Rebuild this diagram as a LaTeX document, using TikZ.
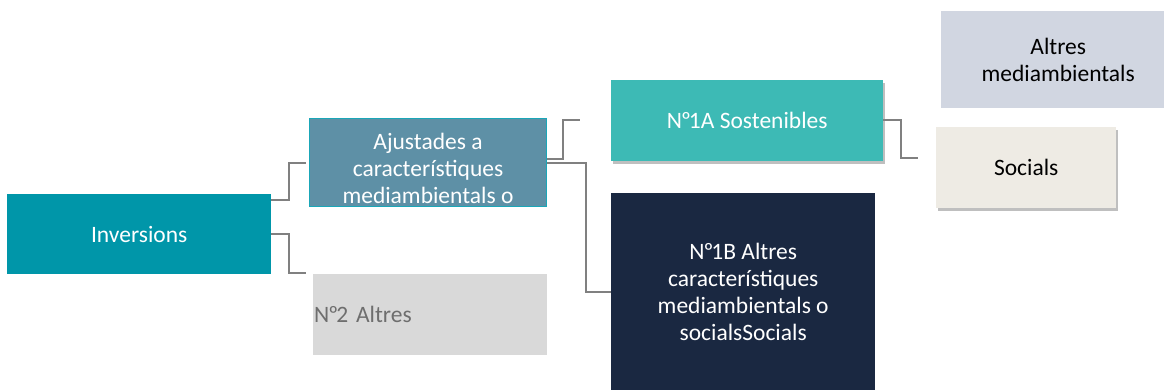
\documentclass[tikz,border=0pt]{standalone}
\usepackage{fontspec}
\setmainfont{Carlito}
\usetikzlibrary{shadows}
\definecolor{invblue}{HTML}{0096A9}
\definecolor{ajustblue}{HTML}{5E90A6}
\definecolor{ajustedge}{HTML}{1AA7B8}
\definecolor{altgray}{HTML}{D9D9D9}
\definecolor{altgraytext}{HTML}{6E6E6E}
\definecolor{sostteal}{HTML}{3DBAB5}
\definecolor{altresnavy}{HTML}{1A2841}
\definecolor{mediblue}{HTML}{D1D6E1}
\definecolor{socbeige}{HTML}{EEEBE4}
\definecolor{linkgray}{HTML}{808080}
\newcommand{\numero}{N\kern-1pt º\kern-2pt}

\begin{document}
\begin{tikzpicture}[x=1pt,y=-1pt,
    box/.style={rectangle,anchor=north west,inner sep=0pt,align=center,
      font=\fontsize{23.5}{27}\selectfont},
    shade box/.style={drop shadow={shadow xshift=2pt,shadow yshift=-3pt,opacity=0.25,fill=black}},
    link/.style={draw=linkgray,line width=2pt}]
  \useasboundingbox (0,0) rectangle (1164,389);
  % boxes
  \node[box,fill=invblue,text=white,minimum width=264pt,minimum height=80pt] (inv) at (7,194) {Inversions};
  \node[box,fill=ajustblue,draw=ajustedge,line width=1pt,text=white,minimum width=237pt,minimum height=88pt] (ajust) at (309,118)
    {\rule{0pt}{29pt}Ajustades a\\característiques\\mediambientals o};
  \node[box,fill=altgray,text=altgraytext,align=left,text width=232pt,inner xsep=1pt,minimum height=81pt] (altres) at (313,274) {\numero2 Altres};
  \node[box,shade box,fill=sostteal,text=white,minimum width=272pt,minimum height=81pt] (sost) at (611,80) {\numero1A Sostenibles};
  \node[box,fill=altresnavy,text=white,minimum width=264pt,minimum height=198pt] (caract) at (611,193)
    {\numero1B Altres\\característiques\\mediambientals o\\socialsSocials};
  \node[box,fill=mediblue,text=black,minimum width=234pt,minimum height=97pt] (medi) at (941,11) {Altres\\mediambientals};
  \node[box,shade box,fill=socbeige,text=black,minimum width=180pt,minimum height=81pt] (soc) at (936,127) {Socials};
  % connectors
  \draw[link] ([yshift=-6pt]inv.north east) -- ++(18,0) |- ([xshift=-3pt]ajust.west);
  \draw[link] (inv.east) -- ++(18,0) |- ([xshift=-7pt,yshift=1pt]altres.north west);
  \draw[link] ([yshift=4pt]ajust.east) -- ++(16,0) |- ([xshift=-31pt,yshift=1pt]sost.west);
  \draw[link] (ajust.east) -- ++(39,0) |- (caract.west);
  \draw[link] ([yshift=1pt]sost.east) -- ++(18,0) |- ([xshift=-18pt,yshift=10pt]soc.west);
\end{tikzpicture}
\end{document}
